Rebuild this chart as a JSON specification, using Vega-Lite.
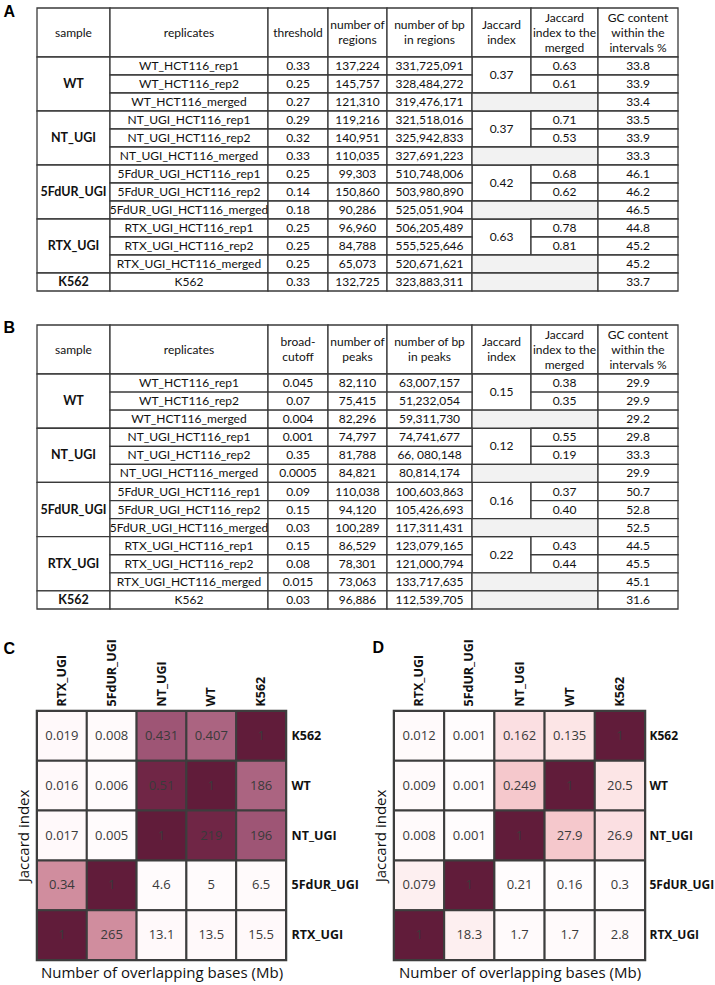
{
  "$schema": "https://vega.github.io/schema/vega-lite/v6.json",
  "background": "#ffffff",
  "padding": {"left": 1, "top": 3, "right": 0, "bottom": 0},
  "config": {"font": "Lato", "view": {"stroke": null}},
  "datasets": {
    "A": [
      {"r0":0,"r1":1,"c0":0,"c1":1,"v":"sample"},
      {"r0":0,"r1":1,"c0":1,"c1":2,"v":"replicates"},
      {"r0":0,"r1":1,"c0":2,"c1":3,"v":"threshold"},
      {"r0":0,"r1":1,"c0":3,"c1":4,"v":"number of\nregions"},
      {"r0":0,"r1":1,"c0":4,"c1":5,"v":"number of bp\nin regions"},
      {"r0":0,"r1":1,"c0":5,"c1":6,"v":"Jaccard\nindex"},
      {"r0":0,"r1":1,"c0":6,"c1":7,"v":"Jaccard\nindex to the\nmerged"},
      {"r0":0,"r1":1,"c0":7,"c1":8,"v":"GC content\nwithin the\nintervals %"},
      {"r0":1,"r1":4,"c0":0,"c1":1,"v":"WT"},
      {"r0":4,"r1":7,"c0":0,"c1":1,"v":"NT_UGI"},
      {"r0":7,"r1":10,"c0":0,"c1":1,"v":"5FdUR_UGI"},
      {"r0":10,"r1":13,"c0":0,"c1":1,"v":"RTX_UGI"},
      {"r0":13,"r1":14,"c0":0,"c1":1,"v":"K562"},
      {"r0":1,"r1":3,"c0":5,"c1":6,"v":"0.37"},
      {"r0":4,"r1":6,"c0":5,"c1":6,"v":"0.37"},
      {"r0":7,"r1":9,"c0":5,"c1":6,"v":"0.42"},
      {"r0":10,"r1":12,"c0":5,"c1":6,"v":"0.63"},
      {"r0":1,"r1":2,"c0":1,"c1":2,"v":"WT_HCT116_rep1"},{"r0":1,"r1":2,"c0":2,"c1":3,"v":"0.33"},{"r0":1,"r1":2,"c0":3,"c1":4,"v":"137,224"},{"r0":1,"r1":2,"c0":4,"c1":5,"v":"331,725,091"},{"r0":1,"r1":2,"c0":6,"c1":7,"v":"0.63"},{"r0":1,"r1":2,"c0":7,"c1":8,"v":"33.8"},
      {"r0":2,"r1":3,"c0":1,"c1":2,"v":"WT_HCT116_rep2"},{"r0":2,"r1":3,"c0":2,"c1":3,"v":"0.25"},{"r0":2,"r1":3,"c0":3,"c1":4,"v":"145,757"},{"r0":2,"r1":3,"c0":4,"c1":5,"v":"328,484,272"},{"r0":2,"r1":3,"c0":6,"c1":7,"v":"0.61"},{"r0":2,"r1":3,"c0":7,"c1":8,"v":"33.9"},
      {"r0":3,"r1":4,"c0":1,"c1":2,"v":"WT_HCT116_merged"},{"r0":3,"r1":4,"c0":2,"c1":3,"v":"0.27"},{"r0":3,"r1":4,"c0":3,"c1":4,"v":"121,310"},{"r0":3,"r1":4,"c0":4,"c1":5,"v":"319,476,171"},{"r0":3,"r1":4,"c0":5,"c1":7,"v":""},{"r0":3,"r1":4,"c0":7,"c1":8,"v":"33.4"},
      {"r0":4,"r1":5,"c0":1,"c1":2,"v":"NT_UGI_HCT116_rep1"},{"r0":4,"r1":5,"c0":2,"c1":3,"v":"0.29"},{"r0":4,"r1":5,"c0":3,"c1":4,"v":"119,216"},{"r0":4,"r1":5,"c0":4,"c1":5,"v":"321,518,016"},{"r0":4,"r1":5,"c0":6,"c1":7,"v":"0.71"},{"r0":4,"r1":5,"c0":7,"c1":8,"v":"33.5"},
      {"r0":5,"r1":6,"c0":1,"c1":2,"v":"NT_UGI_HCT116_rep2"},{"r0":5,"r1":6,"c0":2,"c1":3,"v":"0.32"},{"r0":5,"r1":6,"c0":3,"c1":4,"v":"140,951"},{"r0":5,"r1":6,"c0":4,"c1":5,"v":"325,942,833"},{"r0":5,"r1":6,"c0":6,"c1":7,"v":"0.53"},{"r0":5,"r1":6,"c0":7,"c1":8,"v":"33.9"},
      {"r0":6,"r1":7,"c0":1,"c1":2,"v":"NT_UGI_HCT116_merged"},{"r0":6,"r1":7,"c0":2,"c1":3,"v":"0.33"},{"r0":6,"r1":7,"c0":3,"c1":4,"v":"110,035"},{"r0":6,"r1":7,"c0":4,"c1":5,"v":"327,691,223"},{"r0":6,"r1":7,"c0":5,"c1":7,"v":""},{"r0":6,"r1":7,"c0":7,"c1":8,"v":"33.3"},
      {"r0":7,"r1":8,"c0":1,"c1":2,"v":"5FdUR_UGI_HCT116_rep1"},{"r0":7,"r1":8,"c0":2,"c1":3,"v":"0.25"},{"r0":7,"r1":8,"c0":3,"c1":4,"v":"99,303"},{"r0":7,"r1":8,"c0":4,"c1":5,"v":"510,748,006"},{"r0":7,"r1":8,"c0":6,"c1":7,"v":"0.68"},{"r0":7,"r1":8,"c0":7,"c1":8,"v":"46.1"},
      {"r0":8,"r1":9,"c0":1,"c1":2,"v":"5FdUR_UGI_HCT116_rep2"},{"r0":8,"r1":9,"c0":2,"c1":3,"v":"0.14"},{"r0":8,"r1":9,"c0":3,"c1":4,"v":"150,860"},{"r0":8,"r1":9,"c0":4,"c1":5,"v":"503,980,890"},{"r0":8,"r1":9,"c0":6,"c1":7,"v":"0.62"},{"r0":8,"r1":9,"c0":7,"c1":8,"v":"46.2"},
      {"r0":9,"r1":10,"c0":1,"c1":2,"v":"5FdUR_UGI_HCT116_merged"},{"r0":9,"r1":10,"c0":2,"c1":3,"v":"0.18"},{"r0":9,"r1":10,"c0":3,"c1":4,"v":"90,286"},{"r0":9,"r1":10,"c0":4,"c1":5,"v":"525,051,904"},{"r0":9,"r1":10,"c0":5,"c1":7,"v":""},{"r0":9,"r1":10,"c0":7,"c1":8,"v":"46.5"},
      {"r0":10,"r1":11,"c0":1,"c1":2,"v":"RTX_UGI_HCT116_rep1"},{"r0":10,"r1":11,"c0":2,"c1":3,"v":"0.25"},{"r0":10,"r1":11,"c0":3,"c1":4,"v":"96,960"},{"r0":10,"r1":11,"c0":4,"c1":5,"v":"506,205,489"},{"r0":10,"r1":11,"c0":6,"c1":7,"v":"0.78"},{"r0":10,"r1":11,"c0":7,"c1":8,"v":"44.8"},
      {"r0":11,"r1":12,"c0":1,"c1":2,"v":"RTX_UGI_HCT116_rep2"},{"r0":11,"r1":12,"c0":2,"c1":3,"v":"0.25"},{"r0":11,"r1":12,"c0":3,"c1":4,"v":"84,788"},{"r0":11,"r1":12,"c0":4,"c1":5,"v":"555,525,646"},{"r0":11,"r1":12,"c0":6,"c1":7,"v":"0.81"},{"r0":11,"r1":12,"c0":7,"c1":8,"v":"45.2"},
      {"r0":12,"r1":13,"c0":1,"c1":2,"v":"RTX_UGI_HCT116_merged"},{"r0":12,"r1":13,"c0":2,"c1":3,"v":"0.25"},{"r0":12,"r1":13,"c0":3,"c1":4,"v":"65,073"},{"r0":12,"r1":13,"c0":4,"c1":5,"v":"520,671,621"},{"r0":12,"r1":13,"c0":5,"c1":7,"v":""},{"r0":12,"r1":13,"c0":7,"c1":8,"v":"45.2"},
      {"r0":13,"r1":14,"c0":1,"c1":2,"v":"K562"},{"r0":13,"r1":14,"c0":2,"c1":3,"v":"0.33"},{"r0":13,"r1":14,"c0":3,"c1":4,"v":"132,725"},{"r0":13,"r1":14,"c0":4,"c1":5,"v":"323,883,311"},{"r0":13,"r1":14,"c0":5,"c1":7,"v":""},{"r0":13,"r1":14,"c0":7,"c1":8,"v":"33.7"}
    ],
    "B": [
      {"r0":0,"r1":1,"c0":0,"c1":1,"v":"sample"},
      {"r0":0,"r1":1,"c0":1,"c1":2,"v":"replicates"},
      {"r0":0,"r1":1,"c0":2,"c1":3,"v":"broad-\ncutoff"},
      {"r0":0,"r1":1,"c0":3,"c1":4,"v":"number of\npeaks"},
      {"r0":0,"r1":1,"c0":4,"c1":5,"v":"number of bp\nin peaks"},
      {"r0":0,"r1":1,"c0":5,"c1":6,"v":"Jaccard\nindex"},
      {"r0":0,"r1":1,"c0":6,"c1":7,"v":"Jaccard\nindex to the\nmerged"},
      {"r0":0,"r1":1,"c0":7,"c1":8,"v":"GC content\nwithin the\nintervals %"},
      {"r0":1,"r1":4,"c0":0,"c1":1,"v":"WT"},
      {"r0":4,"r1":7,"c0":0,"c1":1,"v":"NT_UGI"},
      {"r0":7,"r1":10,"c0":0,"c1":1,"v":"5FdUR_UGI"},
      {"r0":10,"r1":13,"c0":0,"c1":1,"v":"RTX_UGI"},
      {"r0":13,"r1":14,"c0":0,"c1":1,"v":"K562"},
      {"r0":1,"r1":3,"c0":5,"c1":6,"v":"0.15"},
      {"r0":4,"r1":6,"c0":5,"c1":6,"v":"0.12"},
      {"r0":7,"r1":9,"c0":5,"c1":6,"v":"0.16"},
      {"r0":10,"r1":12,"c0":5,"c1":6,"v":"0.22"},
      {"r0":1,"r1":2,"c0":1,"c1":2,"v":"WT_HCT116_rep1"},{"r0":1,"r1":2,"c0":2,"c1":3,"v":"0.045"},{"r0":1,"r1":2,"c0":3,"c1":4,"v":"82,110"},{"r0":1,"r1":2,"c0":4,"c1":5,"v":"63,007,157"},{"r0":1,"r1":2,"c0":6,"c1":7,"v":"0.38"},{"r0":1,"r1":2,"c0":7,"c1":8,"v":"29.9"},
      {"r0":2,"r1":3,"c0":1,"c1":2,"v":"WT_HCT116_rep2"},{"r0":2,"r1":3,"c0":2,"c1":3,"v":"0.07"},{"r0":2,"r1":3,"c0":3,"c1":4,"v":"75,415"},{"r0":2,"r1":3,"c0":4,"c1":5,"v":"51,232,054"},{"r0":2,"r1":3,"c0":6,"c1":7,"v":"0.35"},{"r0":2,"r1":3,"c0":7,"c1":8,"v":"29.9"},
      {"r0":3,"r1":4,"c0":1,"c1":2,"v":"WT_HCT116_merged"},{"r0":3,"r1":4,"c0":2,"c1":3,"v":"0.004"},{"r0":3,"r1":4,"c0":3,"c1":4,"v":"82,296"},{"r0":3,"r1":4,"c0":4,"c1":5,"v":"59,311,730"},{"r0":3,"r1":4,"c0":5,"c1":7,"v":""},{"r0":3,"r1":4,"c0":7,"c1":8,"v":"29.2"},
      {"r0":4,"r1":5,"c0":1,"c1":2,"v":"NT_UGI_HCT116_rep1"},{"r0":4,"r1":5,"c0":2,"c1":3,"v":"0.001"},{"r0":4,"r1":5,"c0":3,"c1":4,"v":"74,797"},{"r0":4,"r1":5,"c0":4,"c1":5,"v":"74,741,677"},{"r0":4,"r1":5,"c0":6,"c1":7,"v":"0.55"},{"r0":4,"r1":5,"c0":7,"c1":8,"v":"29.8"},
      {"r0":5,"r1":6,"c0":1,"c1":2,"v":"NT_UGI_HCT116_rep2"},{"r0":5,"r1":6,"c0":2,"c1":3,"v":"0.35"},{"r0":5,"r1":6,"c0":3,"c1":4,"v":"81,788"},{"r0":5,"r1":6,"c0":4,"c1":5,"v":"66, 080,148"},{"r0":5,"r1":6,"c0":6,"c1":7,"v":"0.19"},{"r0":5,"r1":6,"c0":7,"c1":8,"v":"33.3"},
      {"r0":6,"r1":7,"c0":1,"c1":2,"v":"NT_UGI_HCT116_merged"},{"r0":6,"r1":7,"c0":2,"c1":3,"v":"0.0005"},{"r0":6,"r1":7,"c0":3,"c1":4,"v":"84,821"},{"r0":6,"r1":7,"c0":4,"c1":5,"v":"80,814,174"},{"r0":6,"r1":7,"c0":5,"c1":7,"v":""},{"r0":6,"r1":7,"c0":7,"c1":8,"v":"29.9"},
      {"r0":7,"r1":8,"c0":1,"c1":2,"v":"5FdUR_UGI_HCT116_rep1"},{"r0":7,"r1":8,"c0":2,"c1":3,"v":"0.09"},{"r0":7,"r1":8,"c0":3,"c1":4,"v":"110,038"},{"r0":7,"r1":8,"c0":4,"c1":5,"v":"100,603,863"},{"r0":7,"r1":8,"c0":6,"c1":7,"v":"0.37"},{"r0":7,"r1":8,"c0":7,"c1":8,"v":"50.7"},
      {"r0":8,"r1":9,"c0":1,"c1":2,"v":"5FdUR_UGI_HCT116_rep2"},{"r0":8,"r1":9,"c0":2,"c1":3,"v":"0.15"},{"r0":8,"r1":9,"c0":3,"c1":4,"v":"94,120"},{"r0":8,"r1":9,"c0":4,"c1":5,"v":"105,426,693"},{"r0":8,"r1":9,"c0":6,"c1":7,"v":"0.40"},{"r0":8,"r1":9,"c0":7,"c1":8,"v":"52.8"},
      {"r0":9,"r1":10,"c0":1,"c1":2,"v":"5FdUR_UGI_HCT116_merged"},{"r0":9,"r1":10,"c0":2,"c1":3,"v":"0.03"},{"r0":9,"r1":10,"c0":3,"c1":4,"v":"100,289"},{"r0":9,"r1":10,"c0":4,"c1":5,"v":"117,311,431"},{"r0":9,"r1":10,"c0":5,"c1":7,"v":""},{"r0":9,"r1":10,"c0":7,"c1":8,"v":"52.5"},
      {"r0":10,"r1":11,"c0":1,"c1":2,"v":"RTX_UGI_HCT116_rep1"},{"r0":10,"r1":11,"c0":2,"c1":3,"v":"0.15"},{"r0":10,"r1":11,"c0":3,"c1":4,"v":"86,529"},{"r0":10,"r1":11,"c0":4,"c1":5,"v":"123,079,165"},{"r0":10,"r1":11,"c0":6,"c1":7,"v":"0.43"},{"r0":10,"r1":11,"c0":7,"c1":8,"v":"44.5"},
      {"r0":11,"r1":12,"c0":1,"c1":2,"v":"RTX_UGI_HCT116_rep2"},{"r0":11,"r1":12,"c0":2,"c1":3,"v":"0.08"},{"r0":11,"r1":12,"c0":3,"c1":4,"v":"78,301"},{"r0":11,"r1":12,"c0":4,"c1":5,"v":"121,000,794"},{"r0":11,"r1":12,"c0":6,"c1":7,"v":"0.44"},{"r0":11,"r1":12,"c0":7,"c1":8,"v":"45.5"},
      {"r0":12,"r1":13,"c0":1,"c1":2,"v":"RTX_UGI_HCT116_merged"},{"r0":12,"r1":13,"c0":2,"c1":3,"v":"0.015"},{"r0":12,"r1":13,"c0":3,"c1":4,"v":"73,063"},{"r0":12,"r1":13,"c0":4,"c1":5,"v":"133,717,635"},{"r0":12,"r1":13,"c0":5,"c1":7,"v":""},{"r0":12,"r1":13,"c0":7,"c1":8,"v":"45.1"},
      {"r0":13,"r1":14,"c0":1,"c1":2,"v":"K562"},{"r0":13,"r1":14,"c0":2,"c1":3,"v":"0.03"},{"r0":13,"r1":14,"c0":3,"c1":4,"v":"96,886"},{"r0":13,"r1":14,"c0":4,"c1":5,"v":"112,539,705"},{"r0":13,"r1":14,"c0":5,"c1":7,"v":""},{"r0":13,"r1":14,"c0":7,"c1":8,"v":"31.6"}
    ],
    "hm": [
      {"p":"C","row":"K562","col":"RTX_UGI","v":"0.019","j":0.019},
      {"p":"C","row":"K562","col":"5FdUR_UGI","v":"0.008","j":0.008},
      {"p":"C","row":"K562","col":"NT_UGI","v":"0.431","j":0.431},
      {"p":"C","row":"K562","col":"WT","v":"0.407","j":0.407},
      {"p":"C","row":"K562","col":"K562","v":"1","j":1},
      {"p":"C","row":"WT","col":"RTX_UGI","v":"0.016","j":0.016},
      {"p":"C","row":"WT","col":"5FdUR_UGI","v":"0.006","j":0.006},
      {"p":"C","row":"WT","col":"NT_UGI","v":"0.51","j":0.51},
      {"p":"C","row":"WT","col":"WT","v":"1","j":1},
      {"p":"C","row":"WT","col":"K562","v":"186","j":0.407},
      {"p":"C","row":"NT_UGI","col":"RTX_UGI","v":"0.017","j":0.017},
      {"p":"C","row":"NT_UGI","col":"5FdUR_UGI","v":"0.005","j":0.005},
      {"p":"C","row":"NT_UGI","col":"NT_UGI","v":"1","j":1},
      {"p":"C","row":"NT_UGI","col":"WT","v":"219","j":0.51},
      {"p":"C","row":"NT_UGI","col":"K562","v":"196","j":0.431},
      {"p":"C","row":"5FdUR_UGI","col":"RTX_UGI","v":"0.34","j":0.34},
      {"p":"C","row":"5FdUR_UGI","col":"5FdUR_UGI","v":"1","j":1},
      {"p":"C","row":"5FdUR_UGI","col":"NT_UGI","v":"4.6","j":0.005},
      {"p":"C","row":"5FdUR_UGI","col":"WT","v":"5","j":0.006},
      {"p":"C","row":"5FdUR_UGI","col":"K562","v":"6.5","j":0.008},
      {"p":"C","row":"RTX_UGI","col":"RTX_UGI","v":"1","j":1},
      {"p":"C","row":"RTX_UGI","col":"5FdUR_UGI","v":"265","j":0.34},
      {"p":"C","row":"RTX_UGI","col":"NT_UGI","v":"13.1","j":0.017},
      {"p":"C","row":"RTX_UGI","col":"WT","v":"13.5","j":0.016},
      {"p":"C","row":"RTX_UGI","col":"K562","v":"15.5","j":0.019},
      {"p":"D","row":"K562","col":"RTX_UGI","v":"0.012","j":0.012},
      {"p":"D","row":"K562","col":"5FdUR_UGI","v":"0.001","j":0.001},
      {"p":"D","row":"K562","col":"NT_UGI","v":"0.162","j":0.162},
      {"p":"D","row":"K562","col":"WT","v":"0.135","j":0.135},
      {"p":"D","row":"K562","col":"K562","v":"1","j":1},
      {"p":"D","row":"WT","col":"RTX_UGI","v":"0.009","j":0.009},
      {"p":"D","row":"WT","col":"5FdUR_UGI","v":"0.001","j":0.001},
      {"p":"D","row":"WT","col":"NT_UGI","v":"0.249","j":0.249},
      {"p":"D","row":"WT","col":"WT","v":"1","j":1},
      {"p":"D","row":"WT","col":"K562","v":"20.5","j":0.135},
      {"p":"D","row":"NT_UGI","col":"RTX_UGI","v":"0.008","j":0.008},
      {"p":"D","row":"NT_UGI","col":"5FdUR_UGI","v":"0.001","j":0.001},
      {"p":"D","row":"NT_UGI","col":"NT_UGI","v":"1","j":1},
      {"p":"D","row":"NT_UGI","col":"WT","v":"27.9","j":0.249},
      {"p":"D","row":"NT_UGI","col":"K562","v":"26.9","j":0.162},
      {"p":"D","row":"5FdUR_UGI","col":"RTX_UGI","v":"0.079","j":0.079},
      {"p":"D","row":"5FdUR_UGI","col":"5FdUR_UGI","v":"1","j":1},
      {"p":"D","row":"5FdUR_UGI","col":"NT_UGI","v":"0.21","j":0.001},
      {"p":"D","row":"5FdUR_UGI","col":"WT","v":"0.16","j":0.001},
      {"p":"D","row":"5FdUR_UGI","col":"K562","v":"0.3","j":0.001},
      {"p":"D","row":"RTX_UGI","col":"RTX_UGI","v":"1","j":1},
      {"p":"D","row":"RTX_UGI","col":"5FdUR_UGI","v":"18.3","j":0.079},
      {"p":"D","row":"RTX_UGI","col":"NT_UGI","v":"1.7","j":0.008},
      {"p":"D","row":"RTX_UGI","col":"WT","v":"1.7","j":0.009},
      {"p":"D","row":"RTX_UGI","col":"K562","v":"2.8","j":0.012}
    ]
  },
  "spacing": 27,
  "vconcat": [
    {
      "width": 641, "height": 283,
      "data": {"name": "A"},
      "encoding": {
        "x": {"field": "c0", "type": "quantitative", "scale": {"domain": [0,1,2,3,4,5,6,7,8], "range": [0,73,231,291,350,435,494,561,641], "nice": false, "zero": false}, "axis": null}
      },
      "layer": [
        {
          "mark": {"type": "rect", "stroke": "#3a3a3a", "strokeWidth": 1.3},
          "encoding": {
            "y": {"field": "r0", "type": "quantitative", "scale": {"domain": [0,1,14], "range": [0,49,283], "nice": false, "zero": false},
                  "axis": {"title": "A", "labels": false, "ticks": false, "domain": false, "grid": false, "titleX": -34, "titleY": 8, "titleAngle": 0, "titleAlign": "left", "titleBaseline": "alphabetic", "titleFont": "Liberation Sans", "titleFontSize": 16, "titleFontWeight": "bold", "titleColor": "#000000"}},
            "x2": {"field": "c1"},
            "y2": {"field": "r1"},
            "fill": {"condition": {"test": "datum.v === ''", "value": "#f2f2f2"}, "value": "#ffffff"}
          }
        },
        {
          "transform": [
            {"filter": "length(split(datum.v, '\\n')) == 1 && !(datum.r0 >= 1 && datum.c0 == 0)"},
            {"fold": ["c0","c1"], "as": ["ck","cx"]},
            {"fold": ["r0","r1"], "as": ["rk","ry"]}
          ],
          "mark": {"type": "text", "font": "Lato", "fontSize": 12, "color": "#111111", "baseline": "middle", "align": "center"},
          "encoding": {
            "x": {"field": "cx", "aggregate": "mean", "type": "quantitative", "axis": null},
            "y": {"field": "ry", "aggregate": "mean", "type": "quantitative", "axis": {"title": "A", "labels": false, "ticks": false, "domain": false, "grid": false, "titleX": -34, "titleY": 8, "titleAngle": 0, "titleAlign": "left", "titleBaseline": "alphabetic", "titleFont": "Liberation Sans", "titleFontSize": 16, "titleFontWeight": "bold", "titleColor": "#000000"}},
            "text": {"field": "v", "type": "nominal"},
            "detail": [{"field": "c0", "type": "quantitative"}, {"field": "r0", "type": "quantitative"}]
          }
        },
        {
          "transform": [
            {"filter": "length(split(datum.v, '\\n')) == 2"},
            {"fold": ["c0","c1"], "as": ["ck","cx"]},
            {"fold": ["r0","r1"], "as": ["rk","ry"]}
          ],
          "mark": {"type": "text", "font": "Lato", "fontSize": 12, "color": "#111111", "baseline": "middle", "align": "center", "lineBreak": "\n", "lineHeight": 15, "dy": -7.5},
          "encoding": {
            "x": {"field": "cx", "aggregate": "mean", "type": "quantitative", "axis": null},
            "y": {"field": "ry", "aggregate": "mean", "type": "quantitative", "axis": {"title": "A", "labels": false, "ticks": false, "domain": false, "grid": false, "titleX": -34, "titleY": 8, "titleAngle": 0, "titleAlign": "left", "titleBaseline": "alphabetic", "titleFont": "Liberation Sans", "titleFontSize": 16, "titleFontWeight": "bold", "titleColor": "#000000"}},
            "text": {"field": "v", "type": "nominal"},
            "detail": [{"field": "c0", "type": "quantitative"}, {"field": "r0", "type": "quantitative"}]
          }
        },
        {
          "transform": [
            {"filter": "length(split(datum.v, '\\n')) == 3"},
            {"fold": ["c0","c1"], "as": ["ck","cx"]},
            {"fold": ["r0","r1"], "as": ["rk","ry"]}
          ],
          "mark": {"type": "text", "font": "Lato", "fontSize": 12, "color": "#111111", "baseline": "middle", "align": "center", "lineBreak": "\n", "lineHeight": 15, "dy": -15},
          "encoding": {
            "x": {"field": "cx", "aggregate": "mean", "type": "quantitative", "axis": null},
            "y": {"field": "ry", "aggregate": "mean", "type": "quantitative", "axis": {"title": "A", "labels": false, "ticks": false, "domain": false, "grid": false, "titleX": -34, "titleY": 8, "titleAngle": 0, "titleAlign": "left", "titleBaseline": "alphabetic", "titleFont": "Liberation Sans", "titleFontSize": 16, "titleFontWeight": "bold", "titleColor": "#000000"}},
            "text": {"field": "v", "type": "nominal"},
            "detail": [{"field": "c0", "type": "quantitative"}, {"field": "r0", "type": "quantitative"}]
          }
        },
        {
          "transform": [
            {"filter": "datum.c0 == 0 && datum.r0 >= 1"},
            {"fold": ["c0","c1"], "as": ["ck","cx"]},
            {"fold": ["r0","r1"], "as": ["rk","ry"]}
          ],
          "mark": {"type": "text", "font": "Lato", "fontSize": 12.5, "fontWeight": "bold", "color": "#111111", "baseline": "middle", "align": "center"},
          "encoding": {
            "x": {"field": "cx", "aggregate": "mean", "type": "quantitative", "axis": null},
            "y": {"field": "ry", "aggregate": "mean", "type": "quantitative", "axis": {"title": "A", "labels": false, "ticks": false, "domain": false, "grid": false, "titleX": -34, "titleY": 8, "titleAngle": 0, "titleAlign": "left", "titleBaseline": "alphabetic", "titleFont": "Liberation Sans", "titleFontSize": 16, "titleFontWeight": "bold", "titleColor": "#000000"}},
            "text": {"field": "v", "type": "nominal"},
            "detail": [{"field": "c0", "type": "quantitative"}, {"field": "r0", "type": "quantitative"}]
          }
        }
      ]
    },
    {
      "width": 641, "height": 284,
      "data": {"name": "B"},
      "encoding": {
        "x": {"field": "c0", "type": "quantitative", "scale": {"domain": [0,1,2,3,4,5,6,7,8], "range": [0,73,231,291,350,435,494,561,641], "nice": false, "zero": false}, "axis": null}
      },
      "layer": [
        {
          "mark": {"type": "rect", "stroke": "#3a3a3a", "strokeWidth": 1.3},
          "encoding": {
            "y": {"field": "r0", "type": "quantitative", "scale": {"domain": [0,1,14], "range": [0,49,284], "nice": false, "zero": false},
                  "axis": {"title": "B", "labels": false, "ticks": false, "domain": false, "grid": false, "titleX": -34, "titleY": 7, "titleAngle": 0, "titleAlign": "left", "titleBaseline": "alphabetic", "titleFont": "Liberation Sans", "titleFontSize": 16, "titleFontWeight": "bold", "titleColor": "#000000"}},
            "x2": {"field": "c1"},
            "y2": {"field": "r1"},
            "fill": {"condition": {"test": "datum.v === ''", "value": "#f2f2f2"}, "value": "#ffffff"}
          }
        },
        {
          "transform": [
            {"filter": "length(split(datum.v, '\\n')) == 1 && !(datum.r0 >= 1 && datum.c0 == 0)"},
            {"fold": ["c0","c1"], "as": ["ck","cx"]},
            {"fold": ["r0","r1"], "as": ["rk","ry"]}
          ],
          "mark": {"type": "text", "font": "Lato", "fontSize": 12, "color": "#111111", "baseline": "middle", "align": "center"},
          "encoding": {
            "x": {"field": "cx", "aggregate": "mean", "type": "quantitative", "axis": null},
            "y": {"field": "ry", "aggregate": "mean", "type": "quantitative", "axis": {"title": "B", "labels": false, "ticks": false, "domain": false, "grid": false, "titleX": -34, "titleY": 7, "titleAngle": 0, "titleAlign": "left", "titleBaseline": "alphabetic", "titleFont": "Liberation Sans", "titleFontSize": 16, "titleFontWeight": "bold", "titleColor": "#000000"}},
            "text": {"field": "v", "type": "nominal"},
            "detail": [{"field": "c0", "type": "quantitative"}, {"field": "r0", "type": "quantitative"}]
          }
        },
        {
          "transform": [
            {"filter": "length(split(datum.v, '\\n')) == 2"},
            {"fold": ["c0","c1"], "as": ["ck","cx"]},
            {"fold": ["r0","r1"], "as": ["rk","ry"]}
          ],
          "mark": {"type": "text", "font": "Lato", "fontSize": 12, "color": "#111111", "baseline": "middle", "align": "center", "lineBreak": "\n", "lineHeight": 15, "dy": -7.5},
          "encoding": {
            "x": {"field": "cx", "aggregate": "mean", "type": "quantitative", "axis": null},
            "y": {"field": "ry", "aggregate": "mean", "type": "quantitative", "axis": {"title": "B", "labels": false, "ticks": false, "domain": false, "grid": false, "titleX": -34, "titleY": 7, "titleAngle": 0, "titleAlign": "left", "titleBaseline": "alphabetic", "titleFont": "Liberation Sans", "titleFontSize": 16, "titleFontWeight": "bold", "titleColor": "#000000"}},
            "text": {"field": "v", "type": "nominal"},
            "detail": [{"field": "c0", "type": "quantitative"}, {"field": "r0", "type": "quantitative"}]
          }
        },
        {
          "transform": [
            {"filter": "length(split(datum.v, '\\n')) == 3"},
            {"fold": ["c0","c1"], "as": ["ck","cx"]},
            {"fold": ["r0","r1"], "as": ["rk","ry"]}
          ],
          "mark": {"type": "text", "font": "Lato", "fontSize": 12, "color": "#111111", "baseline": "middle", "align": "center", "lineBreak": "\n", "lineHeight": 15, "dy": -15},
          "encoding": {
            "x": {"field": "cx", "aggregate": "mean", "type": "quantitative", "axis": null},
            "y": {"field": "ry", "aggregate": "mean", "type": "quantitative", "axis": {"title": "B", "labels": false, "ticks": false, "domain": false, "grid": false, "titleX": -34, "titleY": 7, "titleAngle": 0, "titleAlign": "left", "titleBaseline": "alphabetic", "titleFont": "Liberation Sans", "titleFontSize": 16, "titleFontWeight": "bold", "titleColor": "#000000"}},
            "text": {"field": "v", "type": "nominal"},
            "detail": [{"field": "c0", "type": "quantitative"}, {"field": "r0", "type": "quantitative"}]
          }
        },
        {
          "transform": [
            {"filter": "datum.c0 == 0 && datum.r0 >= 1"},
            {"fold": ["c0","c1"], "as": ["ck","cx"]},
            {"fold": ["r0","r1"], "as": ["rk","ry"]}
          ],
          "mark": {"type": "text", "font": "Lato", "fontSize": 12.5, "fontWeight": "bold", "color": "#111111", "baseline": "middle", "align": "center"},
          "encoding": {
            "x": {"field": "cx", "aggregate": "mean", "type": "quantitative", "axis": null},
            "y": {"field": "ry", "aggregate": "mean", "type": "quantitative", "axis": {"title": "B", "labels": false, "ticks": false, "domain": false, "grid": false, "titleX": -34, "titleY": 7, "titleAngle": 0, "titleAlign": "left", "titleBaseline": "alphabetic", "titleFont": "Liberation Sans", "titleFontSize": 16, "titleFontWeight": "bold", "titleColor": "#000000"}},
            "text": {"field": "v", "type": "nominal"},
            "detail": [{"field": "c0", "type": "quantitative"}, {"field": "r0", "type": "quantitative"}]
          }
        }
      ]
    },
    {
      "bounds": "flush",
      "spacing": 108,
      "hconcat": [
        {
          "width": 249, "height": 249,
          "data": {"name": "hm"},
          "transform": [{"filter": "datum.p === 'C'"}],
          "view": {"stroke": "#333333", "strokeWidth": 2.5},
          "layer": [
            {
              "mark": {"type": "rect", "stroke": "#3d3d3d", "strokeWidth": 2},
              "encoding": {
                "x": {"field": "col", "type": "nominal", "sort": ["RTX_UGI","5FdUR_UGI","NT_UGI","WT","K562"], "scale": {"paddingInner": 0, "paddingOuter": 0},
                      "axis": {"orient": "top", "title": "C", "titleX": -34, "titleY": -58, "titleAngle": 0, "titleAlign": "left", "titleBaseline": "alphabetic", "titleFont": "Liberation Sans", "titleFontSize": 16, "titleFontWeight": "bold", "titleColor": "#000000", "labelAngle": -90, "domain": false, "ticks": false, "labelPadding": 5, "labelFont": "Open Sans", "labelFontSize": 12.5, "labelFontWeight": "bold", "labelColor": "#111111"}},
                "y": {"field": "row", "type": "nominal", "sort": ["K562","WT","NT_UGI","5FdUR_UGI","RTX_UGI"], "scale": {"paddingInner": 0, "paddingOuter": 0},
                      "axis": {"orient": "right", "title": null, "labelAngle": 0, "domain": false, "ticks": false, "labelPadding": 5, "labelFont": "Open Sans", "labelFontSize": 12.5, "labelFontWeight": "bold", "labelColor": "#111111"}},
                "fill": {"field": "j", "type": "quantitative", "scale": {"domain": [0,0.08,0.16,0.25,0.34,0.42,0.51,1], "range": ["#ffffff","#fdeff0","#fbe0e2","#f5c8cc","#d08d9e","#a45c7c","#702646","#611c3a"]}, "legend": null}
              }
            },
            {
              "mark": {"type": "text", "font": "Open Sans", "fontSize": 13, "color": "#3a3a3a"},
              "encoding": {
                "x": {"field": "col", "type": "nominal", "sort": ["RTX_UGI","5FdUR_UGI","NT_UGI","WT","K562"],
                      "axis": {"orient": "bottom", "title": "Number of overlapping bases (Mb)", "labels": false, "domain": false, "ticks": false, "titleFont": "Open Sans", "titleFontSize": 15, "titleFontWeight": "normal", "titleColor": "#111111", "titlePadding": 5}},
                "y": {"field": "row", "type": "nominal", "sort": ["K562","WT","NT_UGI","5FdUR_UGI","RTX_UGI"],
                      "axis": {"orient": "left", "title": "Jaccard index", "labels": false, "domain": false, "ticks": false, "titleFont": "Open Sans", "titleFontSize": 15, "titleFontWeight": "normal", "titleColor": "#111111", "titlePadding": 6}},
                "text": {"field": "v", "type": "nominal"}
              }
            }
          ],
          "resolve": {"axis": {"x": "independent", "y": "independent"}}
        },
        {
          "width": 251, "height": 249,
          "data": {"name": "hm"},
          "transform": [{"filter": "datum.p === 'D'"}],
          "view": {"stroke": "#333333", "strokeWidth": 2.5},
          "layer": [
            {
              "mark": {"type": "rect", "stroke": "#3d3d3d", "strokeWidth": 2},
              "encoding": {
                "x": {"field": "col", "type": "nominal", "sort": ["RTX_UGI","5FdUR_UGI","NT_UGI","WT","K562"], "scale": {"paddingInner": 0, "paddingOuter": 0},
                      "axis": {"orient": "top", "title": "D", "titleX": -22, "titleY": -59, "titleAngle": 0, "titleAlign": "left", "titleBaseline": "alphabetic", "titleFont": "Liberation Sans", "titleFontSize": 16, "titleFontWeight": "bold", "titleColor": "#000000", "labelAngle": -90, "domain": false, "ticks": false, "labelPadding": 5, "labelFont": "Open Sans", "labelFontSize": 12.5, "labelFontWeight": "bold", "labelColor": "#111111"}},
                "y": {"field": "row", "type": "nominal", "sort": ["K562","WT","NT_UGI","5FdUR_UGI","RTX_UGI"], "scale": {"paddingInner": 0, "paddingOuter": 0},
                      "axis": {"orient": "right", "title": null, "labelAngle": 0, "domain": false, "ticks": false, "labelPadding": 4, "labelFont": "Open Sans", "labelFontSize": 12, "labelFontWeight": "bold", "labelColor": "#111111"}},
                "fill": {"field": "j", "type": "quantitative", "scale": {"domain": [0,0.08,0.16,0.25,0.34,0.42,0.51,1], "range": ["#ffffff","#fdeff0","#fbe0e2","#f5c8cc","#d08d9e","#a45c7c","#702646","#611c3a"]}, "legend": null}
              }
            },
            {
              "mark": {"type": "text", "font": "Open Sans", "fontSize": 13, "color": "#3a3a3a"},
              "encoding": {
                "x": {"field": "col", "type": "nominal", "sort": ["RTX_UGI","5FdUR_UGI","NT_UGI","WT","K562"],
                      "axis": {"orient": "bottom", "title": "Number of overlapping bases (Mb)", "labels": false, "domain": false, "ticks": false, "titleFont": "Open Sans", "titleFontSize": 15, "titleFontWeight": "normal", "titleColor": "#111111", "titlePadding": 5}},
                "y": {"field": "row", "type": "nominal", "sort": ["K562","WT","NT_UGI","5FdUR_UGI","RTX_UGI"],
                      "axis": {"orient": "left", "title": "Jaccard index", "labels": false, "domain": false, "ticks": false, "titleFont": "Open Sans", "titleFontSize": 15, "titleFontWeight": "normal", "titleColor": "#111111", "titlePadding": 6}},
                "text": {"field": "v", "type": "nominal"}
              }
            }
          ],
          "resolve": {"axis": {"x": "independent", "y": "independent"}}
        }
      ]
    }
  ]
}
